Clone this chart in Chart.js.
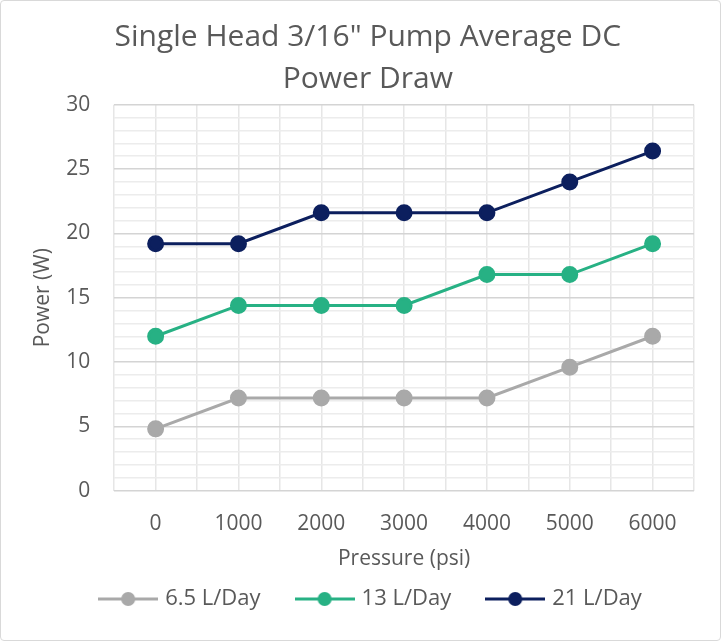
<!DOCTYPE html>
<html>
<head>
<meta charset="utf-8">
<script src="https://cdn.jsdelivr.net/npm/chart.js@4.4.1/dist/chart.umd.min.js"></script>
<style>
  html, body { margin: 0; padding: 0; background: #fff; }
  #wrap { width: 719px; height: 639px; border: 1px solid #d9d9d9; border-radius: 4px; }
</style>
</head>
<body>
<div id="wrap"><canvas id="myChart" width="719" height="639"></canvas></div>
<script>
// data
const pressures = [0, 1000, 2000, 3000, 4000, 5000, 6000];
const seriesNames = ['6.5 L/Day', '13 L/Day', '21 L/Day'];
const power65 = [4.8, 7.2, 7.2, 7.2, 7.2, 9.6, 12.0];
const power13 = [12.0, 14.4, 14.4, 14.4, 16.8, 16.8, 19.2];
const power21 = [19.2, 19.2, 21.6, 21.6, 21.6, 24.0, 26.4];
const yTicks = [0, 5, 10, 15, 20, 25, 30];

const colors = ['#a9a9a9', '#27b184', '#0c1f5e'];
const textColor = '#595959';
const font = '"Open Sans", Lato, sans-serif';

function toPoints(vals) {
    return pressures.map((p, i) => ({ x: p, y: vals[i] }));
}

// little line + dot for the legend
function legendIcon(color) {
    const c = document.createElement('canvas');
    c.width = 60; c.height = 16;
    const g = c.getContext('2d');
    g.strokeStyle = color;
    g.lineWidth = 3;
    g.beginPath(); g.moveTo(0, 8); g.lineTo(60, 8); g.stroke();
    g.fillStyle = color;
    g.beginPath(); g.arc(30, 8, 7, 0, Math.PI * 2); g.fill();
    return c;
}

// legend sits a little right of centre in the original
const legendNudge = {
    id: 'legendNudge',
    afterLayout(chart) {
        chart.legend.left += 12;
        chart.legend.right += 12;
    }
};

const allSeries = [power65, power13, power21];
const datasets = allSeries.map((vals, i) => ({
    label: seriesNames[i],
    data: toPoints(vals),
    borderColor: colors[i],
    backgroundColor: colors[i],
    borderWidth: 3,
    pointRadius: 7,
    pointHoverRadius: 7,
    tension: 0
}));

const ctx = document.getElementById('myChart').getContext('2d');
const myChart = new Chart(ctx, {
    type: 'line',
    data: { datasets: datasets },
    plugins: [legendNudge],
    options: {
        responsive: false,
        animation: false,
        layout: { padding: { left: 25, right: 26, top: 0, bottom: 20 } },
        plugins: {
            title: {
                display: true,
                // leading nbsp nudges the title a bit right, like the original
                text: ['\u00a0\u00a0Single Head 3/16" Pump Average DC', '\u00a0\u00a0Power Draw'],
                color: textColor,
                font: { family: font, size: 30, weight: 'normal', lineHeight: 1.38 },
                padding: { top: 16, bottom: 5 },
                align: 'center'
            },
            legend: {
                position: 'bottom',
                labels: {
                    color: textColor,
                    font: { family: font, size: 22 },
                    usePointStyle: true,
                    pointStyleWidth: 52,
                    boxHeight: 16,
                    padding: 38,
                    generateLabels: chart => chart.data.datasets.map((ds, i) => ({
                        text: ds.label,
                        fontColor: textColor,
                        pointStyle: legendIcon(colors[i]),
                        datasetIndex: i,
                        lineWidth: 0
                    }))
                }
            },
            tooltip: { enabled: false }
        },
        scales: {
            x: {
                type: 'linear',
                min: -500,
                max: 6500,
                border: { display: false },
                grid: { color: '#e6e6e6', lineWidth: 1.5, drawTicks: false },
                afterBuildTicks: axis => {
                    const t = [];
                    for (let v = -500; v <= 6500; v += 500) t.push({ value: v });
                    axis.ticks = t;
                },
                ticks: {
                    color: textColor,
                    font: { family: font, size: 21 },
                    padding: 21,
                    autoSkip: false,
                    maxRotation: 0,
                    callback: v => pressures.includes(v) ? String(v) : ''
                },
                title: {
                    display: true,
                    text: 'Pressure (psi)',
                    color: textColor,
                    font: { family: font, size: 21 },
                    padding: { top: -11, bottom: -22 }
                }
            },
            y: {
                min: 0,
                max: 30,
                border: { display: false },
                grid: {
                    drawTicks: false,
                    lineWidth: 1.5,
                    color: c => (c.tick && c.tick.value % 5 === 0) ? '#d4d4d4' : '#ececec'
                },
                ticks: {
                    stepSize: 1,
                    autoSkip: false,
                    color: textColor,
                    font: { family: font, size: 21 },
                    padding: 24,
                    callback: v => yTicks.includes(v) ? String(v) : ''
                },
                title: {
                    display: true,
                    text: 'Power (W)',
                    color: textColor,
                    font: { family: font, size: 21 },
                    padding: { bottom: -13 }
                }
            }
        }
    }
});
</script>
</body>
</html>
